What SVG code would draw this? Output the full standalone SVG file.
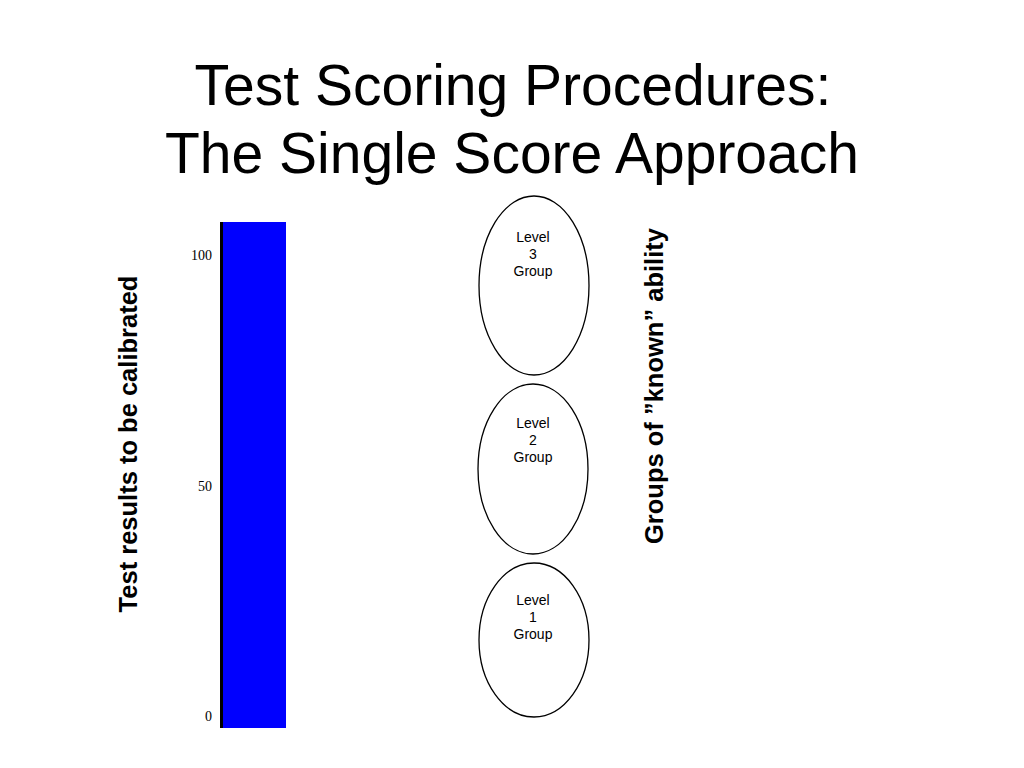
<svg xmlns="http://www.w3.org/2000/svg" width="1024" height="768" viewBox="0 0 1024 768">
<style>
.title{font-family:"Liberation Sans",Arial,sans-serif;font-size:57px;fill:#000;text-anchor:middle}
.axis{font-family:"Liberation Serif","Times New Roman",serif;font-size:14px;fill:#000;text-anchor:end}
.side{font-family:"Liberation Sans",Arial,sans-serif;font-size:25.5px;font-weight:bold;fill:#000;text-anchor:middle}
.lbl{font-family:"Liberation Sans",Arial,sans-serif;font-size:14px;fill:#000;text-anchor:middle}
.oval{fill:#fff;stroke:#000;stroke-width:1.3}
</style>
<rect width="1024" height="768" fill="#fff"/>
<g id="title">
<text class="title" x="513" y="105">Test Scoring Procedures:</text>
<text class="title" x="512" y="173">The Single Score Approach</text>
</g>
<g id="bar">
<rect x="220" y="222" width="66" height="506" fill="#0000ff"/>
<rect x="220" y="222" width="3" height="506" fill="#000"/>
<text class="axis" x="212" y="260">100</text>
<text class="axis" x="212" y="491">50</text>
<text class="axis" x="212" y="721">0</text>
</g>
<g id="left-label"><text class="side" transform="translate(137,444) rotate(-90)">Test results to be calibrated</text></g>
<g id="right-label"><text class="side" transform="translate(663,386) rotate(-90)">Groups of ”known” ability</text></g>
<g id="level3">
<ellipse class="oval" cx="534" cy="285.5" rx="55" ry="89.5"/>
<text class="lbl" x="533" y="242">Level</text>
<text class="lbl" x="533" y="259">3</text>
<text class="lbl" x="533" y="276">Group</text>
</g>
<g id="level2">
<ellipse class="oval" cx="533" cy="469" rx="55" ry="85"/>
<text class="lbl" x="533" y="428">Level</text>
<text class="lbl" x="533" y="445">2</text>
<text class="lbl" x="533" y="462">Group</text>
</g>
<g id="level1">
<ellipse class="oval" cx="534" cy="640" rx="55" ry="77"/>
<text class="lbl" x="533" y="605">Level</text>
<text class="lbl" x="533" y="622">1</text>
<text class="lbl" x="533" y="639">Group</text>
</g>
<g id="connectors"></g>
</svg>
